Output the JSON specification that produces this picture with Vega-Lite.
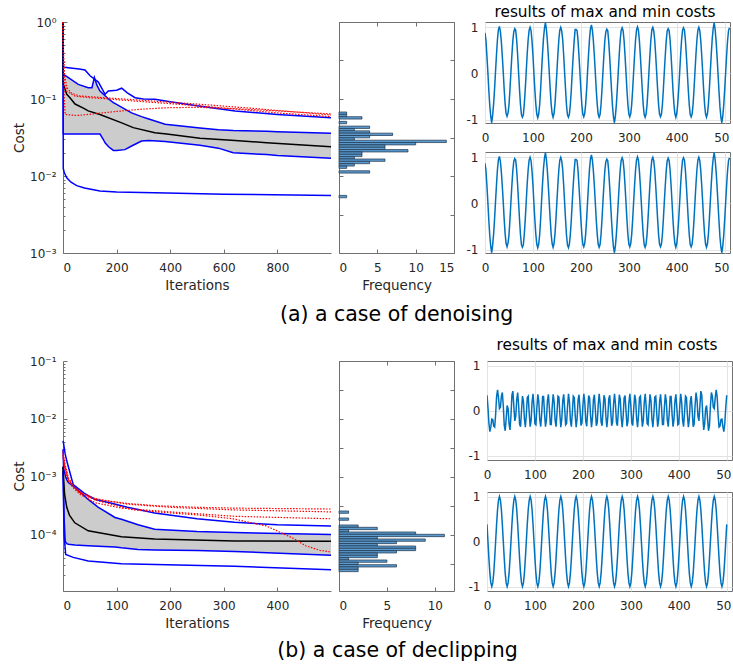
{
"$schema":"https://vega.github.io/schema/vega-lite/v6.json",
"autosize":{"type":"pad"},
"padding":{"left":12,"top":0,"right":0,"bottom":0},
"background":"white",
"config":{
"font":"DejaVu Sans",
"view":{"stroke":null},
"axis":{"labelFontSize":12,"titleFontSize":13.5,"titleFontWeight":"normal","labelColor":"#262626","titleColor":"#262626","domainColor":"#707070","tickColor":"#707070","grid":false,"domainWidth":1,"tickWidth":1},
"title":{"fontWeight":"normal","color":"#000000","font":"DejaVu Sans"}
},
"datasets":{
"bandA":[{"it":0,"lo":1,"hi":1},{"it":1,"lo":0.035,"hi":0.21},{"it":20,"lo":0.035,"hi":0.19},{"it":57,"lo":0.035,"hi":0.155},{"it":94,"lo":0.035,"hi":0.14},{"it":108,"lo":0.035,"hi":0.14},{"it":117,"lo":0.035,"hi":0.19},{"it":127,"lo":0.035,"hi":0.15},{"it":138,"lo":0.035,"hi":0.127},{"it":150,"lo":0.03,"hi":0.116},{"it":157,"lo":0.027,"hi":0.11},{"it":170,"lo":0.024,"hi":0.1},{"it":188,"lo":0.0215,"hi":0.09},{"it":200,"lo":0.0215,"hi":0.085},{"it":231,"lo":0.022,"hi":0.074},{"it":256,"lo":0.0245,"hi":0.066},{"it":293,"lo":0.0285,"hi":0.059},{"it":320,"lo":0.029,"hi":0.055},{"it":381,"lo":0.028,"hi":0.047},{"it":511,"lo":0.025,"hi":0.042},{"it":580,"lo":0.023,"hi":0.04},{"it":635,"lo":0.02,"hi":0.039},{"it":760,"lo":0.019,"hi":0.038},{"it":800,"lo":0.0185,"hi":0.0375},{"it":1000,"lo":0.017,"hi":0.0358}],
"lineA":[
{"s":"max","it":0,"v":1},{"s":"max","it":1,"v":0.26},{"s":"max","it":20,"v":0.255},{"s":"max","it":60,"v":0.245},{"s":"max","it":82,"v":0.238},{"s":"max","it":101,"v":0.2},{"s":"max","it":132,"v":0.166},{"s":"max","it":157,"v":0.115},{"s":"max","it":169,"v":0.127},{"s":"max","it":200,"v":0.13},{"s":"max","it":219,"v":0.138},{"s":"max","it":240,"v":0.12},{"s":"max","it":269,"v":0.104},{"s":"max","it":300,"v":0.1},{"s":"max","it":343,"v":0.099},{"s":"max","it":400,"v":0.092},{"s":"max","it":500,"v":0.082},{"s":"max","it":642,"v":0.07},{"s":"max","it":800,"v":0.063},{"s":"max","it":1000,"v":0.057},
{"s":"med","it":0,"v":1},{"s":"med","it":1,"v":0.155},{"s":"med","it":14,"v":0.115},{"s":"med","it":26,"v":0.104},{"s":"med","it":45,"v":0.086},{"s":"med","it":76,"v":0.076},{"s":"med","it":94,"v":0.07},{"s":"med","it":138,"v":0.063},{"s":"med","it":219,"v":0.049},{"s":"med","it":262,"v":0.0425},{"s":"med","it":343,"v":0.0365},{"s":"med","it":387,"v":0.035},{"s":"med","it":511,"v":0.031},{"s":"med","it":642,"v":0.029},{"s":"med","it":760,"v":0.027},{"s":"med","it":1000,"v":0.024},
{"s":"min","it":0,"v":1},{"s":"min","it":1,"v":0.0125},{"s":"min","it":5,"v":0.011},{"s":"min","it":14,"v":0.0095},{"s":"min","it":30,"v":0.0083},{"s":"min","it":51,"v":0.0075},{"s":"min","it":80,"v":0.007},{"s":"min","it":138,"v":0.0064},{"s":"min","it":200,"v":0.0062},{"s":"min","it":387,"v":0.006},{"s":"min","it":600,"v":0.0058},{"s":"min","it":1000,"v":0.0056},
{"s":"r1","it":0,"v":1},{"s":"r1","it":2,"v":0.4},{"s":"r1","it":5,"v":0.16},{"s":"r1","it":15,"v":0.125},{"s":"r1","it":45,"v":0.109},{"s":"r1","it":100,"v":0.104},{"s":"r1","it":157,"v":0.101},{"s":"r1","it":250,"v":0.095},{"s":"r1","it":343,"v":0.09},{"s":"r1","it":500,"v":0.082},{"s":"r1","it":642,"v":0.074},{"s":"r1","it":800,"v":0.066},{"s":"r1","it":1000,"v":0.059},
{"s":"r2","it":0,"v":1},{"s":"r2","it":2,"v":0.25},{"s":"r2","it":5,"v":0.1},{"s":"r2","it":8,"v":0.063},{"s":"r2","it":50,"v":0.061},{"s":"r2","it":94,"v":0.063},{"s":"r2","it":200,"v":0.069},{"s":"r2","it":300,"v":0.074},{"s":"r2","it":387,"v":0.077},{"s":"r2","it":500,"v":0.078},{"s":"r2","it":642,"v":0.075},{"s":"r2","it":800,"v":0.07},{"s":"r2","it":1000,"v":0.064},
{"s":"r3","it":0,"v":1},{"s":"r3","it":2,"v":0.35},{"s":"r3","it":6,"v":0.2},{"s":"r3","it":15,"v":0.14},{"s":"r3","it":30,"v":0.12},{"s":"r3","it":60,"v":0.11},{"s":"r3","it":150,"v":0.104},{"s":"r3","it":300,"v":0.096},{"s":"r3","it":500,"v":0.086},{"s":"r3","it":700,"v":0.076},{"s":"r3","it":1000,"v":0.062}],
"bandB":[{"it":0,"lo":0.0015,"hi":0.003},{"it":1,"lo":0.0006,"hi":0.0015},{"it":2,"lo":0.0002,"hi":0.0013},{"it":4,"lo":0.00008,"hi":0.0011},{"it":5,"lo":0.000075,"hi":0.001},{"it":7,"lo":0.000071,"hi":0.0009},{"it":10,"lo":0.000069,"hi":0.0008},{"it":22,"lo":0.000067,"hi":0.00066},{"it":47,"lo":0.000065,"hi":0.00041},{"it":66,"lo":0.000064,"hi":0.0003},{"it":97,"lo":0.000062,"hi":0.0002},{"it":109,"lo":0.00006,"hi":0.000186},{"it":140,"lo":0.000056,"hi":0.00015},{"it":171,"lo":0.000055,"hi":0.000126},{"it":250,"lo":0.000054,"hi":0.000115},{"it":320,"lo":0.000052,"hi":0.00011},{"it":500,"lo":0.0000447,"hi":0.000102}],
"lineB":[
{"s":"max","it":0,"v":0.0042},{"s":"max","it":1,"v":0.0038},{"s":"max","it":4,"v":0.0025},{"s":"max","it":7,"v":0.0019},{"s":"max","it":10,"v":0.0015},{"s":"max","it":19,"v":0.00074},{"s":"max","it":40,"v":0.00052},{"s":"max","it":60,"v":0.00041},{"s":"max","it":87,"v":0.00036},{"s":"max","it":120,"v":0.0003},{"s":"max","it":171,"v":0.00024},{"s":"max","it":250,"v":0.00019},{"s":"max","it":320,"v":0.000165},{"s":"max","it":400,"v":0.00015},{"s":"max","it":500,"v":0.000143},
{"s":"med","it":0,"v":0.0015},{"s":"med","it":1,"v":0.00098},{"s":"med","it":3,"v":0.0005},{"s":"med","it":7,"v":0.0003},{"s":"med","it":12,"v":0.00022},{"s":"med","it":22,"v":0.000162},{"s":"med","it":47,"v":0.000118},{"s":"med","it":109,"v":0.000093},{"s":"med","it":171,"v":0.000085},{"s":"med","it":320,"v":0.000079},{"s":"med","it":500,"v":0.000078},
{"s":"min","it":0,"v":0.0012},{"s":"min","it":2,"v":0.0001},{"s":"min","it":5,"v":0.000046},{"s":"min","it":19,"v":0.000041},{"s":"min","it":47,"v":0.0000355},{"s":"min","it":109,"v":0.000032},{"s":"min","it":320,"v":0.000029},{"s":"min","it":500,"v":0.000025},
{"s":"r1","it":0,"v":0.0028},{"s":"r1","it":3,"v":0.0018},{"s":"r1","it":10,"v":0.00098},{"s":"r1","it":19,"v":0.0007},{"s":"r1","it":32,"v":0.00054},{"s":"r1","it":50,"v":0.00045},{"s":"r1","it":78,"v":0.00039},{"s":"r1","it":120,"v":0.00035},{"s":"r1","it":171,"v":0.00032},{"s":"r1","it":250,"v":0.0003},{"s":"r1","it":320,"v":0.00029},{"s":"r1","it":500,"v":0.00028},
{"s":"r2","it":0,"v":0.0024},{"s":"r2","it":3,"v":0.0015},{"s":"r2","it":10,"v":0.00092},{"s":"r2","it":19,"v":0.0007},{"s":"r2","it":32,"v":0.00055},{"s":"r2","it":60,"v":0.00042},{"s":"r2","it":120,"v":0.00034},{"s":"r2","it":200,"v":0.0003},{"s":"r2","it":320,"v":0.00027},{"s":"r2","it":500,"v":0.00025},
{"s":"r3","it":0,"v":0.0022},{"s":"r3","it":3,"v":0.0014},{"s":"r3","it":10,"v":0.00085},{"s":"r3","it":19,"v":0.00065},{"s":"r3","it":32,"v":0.0005},{"s":"r3","it":60,"v":0.00036},{"s":"r3","it":109,"v":0.00029},{"s":"r3","it":200,"v":0.00025},{"s":"r3","it":320,"v":0.00021},{"s":"r3","it":500,"v":0.00019},
{"s":"r4","it":0,"v":0.0026},{"s":"r4","it":3,"v":0.0016},{"s":"r4","it":10,"v":0.0009},{"s":"r4","it":19,"v":0.00068},{"s":"r4","it":32,"v":0.00053},{"s":"r4","it":60,"v":0.0004},{"s":"r4","it":131,"v":0.00027},{"s":"r4","it":200,"v":0.00024},{"s":"r4","it":255,"v":0.00022},{"s":"r4","it":317,"v":0.00019},{"s":"r4","it":379,"v":0.000143},{"s":"r4","it":428,"v":0.000089},{"s":"r4","it":453,"v":0.000065},{"s":"r4","it":480,"v":0.000054},{"s":"r4","it":500,"v":0.000051}],
"histA":[{"lo":-1.1994,"hi":-1.1688,"n":1},{"lo":-1.2299,"hi":-1.1994,"n":1},{"lo":-1.2604,"hi":-1.2299,"n":3},{"lo":-1.3214,"hi":-1.2909,"n":1},{"lo":-1.3825,"hi":-1.3519,"n":4},{"lo":-1.413,"hi":-1.3825,"n":2},{"lo":-1.4435,"hi":-1.413,"n":4},{"lo":-1.474,"hi":-1.4435,"n":7},{"lo":-1.5045,"hi":-1.474,"n":4},{"lo":-1.5351,"hi":-1.5045,"n":2},{"lo":-1.5656,"hi":-1.5351,"n":14},{"lo":-1.5961,"hi":-1.5656,"n":10},{"lo":-1.6266,"hi":-1.5961,"n":6},{"lo":-1.6571,"hi":-1.6266,"n":6},{"lo":-1.6877,"hi":-1.6571,"n":9},{"lo":-1.7182,"hi":-1.6877,"n":3},{"lo":-1.7487,"hi":-1.7182,"n":3},{"lo":-1.7792,"hi":-1.7487,"n":2},{"lo":-1.8097,"hi":-1.7792,"n":6},{"lo":-1.8403,"hi":-1.8097,"n":4},{"lo":-1.8708,"hi":-1.8403,"n":2},{"lo":-1.9013,"hi":-1.8708,"n":1},{"lo":-1.9623,"hi":-1.9318,"n":4},{"lo":-2.2825,"hi":-2.2519,"n":1}],
"histB":[{"lo":-3.6264,"hi":-3.5862,"n":1},{"lo":-3.7471,"hi":-3.7069,"n":1},{"lo":-3.8678,"hi":-3.8276,"n":2},{"lo":-3.908,"hi":-3.8678,"n":4},{"lo":-3.9483,"hi":-3.908,"n":1},{"lo":-3.9885,"hi":-3.9483,"n":8},{"lo":-4.0287,"hi":-3.9885,"n":11},{"lo":-4.069,"hi":-4.0287,"n":4},{"lo":-4.1092,"hi":-4.069,"n":9},{"lo":-4.1494,"hi":-4.1092,"n":6},{"lo":-4.1897,"hi":-4.1494,"n":4},{"lo":-4.2299,"hi":-4.1897,"n":8},{"lo":-4.2701,"hi":-4.2299,"n":8},{"lo":-4.3103,"hi":-4.2701,"n":6},{"lo":-4.3506,"hi":-4.3103,"n":4},{"lo":-4.3908,"hi":-4.3506,"n":4},{"lo":-4.431,"hi":-4.3908,"n":1},{"lo":-4.4713,"hi":-4.431,"n":5},{"lo":-4.5115,"hi":-4.4713,"n":2},{"lo":-4.5517,"hi":-4.5115,"n":6},{"lo":-4.592,"hi":-4.5517,"n":2},{"lo":-4.6322,"hi":-4.592,"n":2}],
"sa1":[{"t":0,"v":0.88},{"t":2,"v":0.72},{"t":4,"v":0.38},{"t":6,"v":0.02},{"t":8,"v":-0.37},{"t":10,"v":-0.7},{"t":12,"v":-0.93},{"t":14,"v":-1.07},{"t":16,"v":-0.9},{"t":18,"v":-0.66},{"t":20,"v":-0.33},{"t":22,"v":0.05},{"t":24,"v":0.41},{"t":26,"v":0.74},{"t":28,"v":0.95},{"t":30,"v":1.02},
{"t":32,"v":0.92},{"t":34,"v":0.7},{"t":36,"v":0.39},{"t":38,"v":0.04},{"t":40,"v":-0.34},{"t":42,"v":-0.66},{"t":44,"v":-0.87},{"t":46,"v":-0.93},{"t":48,"v":-0.86},{"t":50,"v":-0.69},{"t":52,"v":-0.36},{"t":54,"v":0.02},{"t":56,"v":0.38},{"t":58,"v":0.7},{"t":60,"v":0.9},{"t":62,"v":0.97},
{"t":64,"v":0.94},{"t":66,"v":0.73},{"t":68,"v":0.41},{"t":70,"v":0.03},{"t":72,"v":-0.35},{"t":74,"v":-0.68},{"t":76,"v":-0.89},{"t":78,"v":-0.95},{"t":80,"v":-0.9},{"t":82,"v":-0.66},{"t":84,"v":-0.34},{"t":86,"v":0.04},{"t":88,"v":0.42},{"t":90,"v":0.73},{"t":92,"v":0.94},{"t":94,"v":1.0},
{"t":96,"v":0.93},{"t":98,"v":0.71},{"t":100,"v":0.4},{"t":102,"v":0.01},{"t":104,"v":-0.36},{"t":106,"v":-0.67},{"t":108,"v":-0.88},{"t":110,"v":-0.96},{"t":112,"v":-0.88},{"t":114,"v":-0.68},{"t":116,"v":-0.35},{"t":118,"v":0.05},{"t":120,"v":0.43},{"t":122,"v":0.76},{"t":124,"v":0.98},{"t":126,"v":1.1},
{"t":128,"v":0.96},{"t":130,"v":0.72},{"t":132,"v":0.39},{"t":134,"v":0.02},{"t":136,"v":-0.34},{"t":138,"v":-0.67},{"t":140,"v":-0.87},{"t":142,"v":-0.95},{"t":144,"v":-0.87},{"t":146,"v":-0.66},{"t":148,"v":-0.33},{"t":150,"v":0.04},{"t":152,"v":0.41},{"t":154,"v":0.73},{"t":156,"v":0.94},{"t":158,"v":1.0},
{"t":160,"v":0.92},{"t":162,"v":0.74},{"t":164,"v":0.41},{"t":166,"v":0.03},{"t":168,"v":-0.35},{"t":170,"v":-0.69},{"t":172,"v":-0.9},{"t":174,"v":-0.95},{"t":176,"v":-0.88},{"t":178,"v":-0.67},{"t":180,"v":-0.36},{"t":182,"v":0.03},{"t":184,"v":0.39},{"t":186,"v":0.71},{"t":188,"v":0.95},{"t":190,"v":0.95},
{"t":192,"v":0.93},{"t":194,"v":0.72},{"t":196,"v":0.38},{"t":198,"v":0.02},{"t":200,"v":-0.36},{"t":202,"v":-0.68},{"t":204,"v":-0.88},{"t":206,"v":-0.94},{"t":208,"v":-0.87},{"t":210,"v":-0.66},{"t":212,"v":-0.34},{"t":214,"v":0.05},{"t":216,"v":0.42},{"t":218,"v":0.75},{"t":220,"v":0.97},{"t":222,"v":1.05},
{"t":224,"v":0.94},{"t":226,"v":0.71},{"t":228,"v":0.4},{"t":230,"v":0.03},{"t":232,"v":-0.35},{"t":234,"v":-0.66},{"t":236,"v":-0.88},{"t":238,"v":-0.95},{"t":240,"v":-0.89},{"t":242,"v":-0.68},{"t":244,"v":-0.35},{"t":246,"v":0.03},{"t":248,"v":0.4},{"t":250,"v":0.72},{"t":252,"v":0.9},{"t":254,"v":0.96},
{"t":256,"v":0.93},{"t":258,"v":0.7},{"t":260,"v":0.37},{"t":262,"v":0.0},{"t":264,"v":-0.38},{"t":266,"v":-0.72},{"t":268,"v":-0.95},{"t":270,"v":-1.07},{"t":272,"v":-0.92},{"t":274,"v":-0.67},{"t":276,"v":-0.33},{"t":278,"v":0.04},{"t":280,"v":0.41},{"t":282,"v":0.73},{"t":284,"v":0.93},{"t":286,"v":0.99},
{"t":288,"v":0.93},{"t":290,"v":0.72},{"t":292,"v":0.4},{"t":294,"v":0.03},{"t":296,"v":-0.35},{"t":298,"v":-0.67},{"t":300,"v":-0.88},{"t":302,"v":-0.94},{"t":304,"v":-0.87},{"t":306,"v":-0.67},{"t":308,"v":-0.35},{"t":310,"v":0.03},{"t":312,"v":0.4},{"t":314,"v":0.72},{"t":316,"v":0.94},{"t":318,"v":1.01},
{"t":320,"v":0.94},{"t":322,"v":0.71},{"t":324,"v":0.39},{"t":326,"v":0.02},{"t":328,"v":-0.35},{"t":330,"v":-0.68},{"t":332,"v":-0.89},{"t":334,"v":-0.95},{"t":336,"v":-0.88},{"t":338,"v":-0.67},{"t":340,"v":-0.34},{"t":342,"v":0.04},{"t":344,"v":0.41},{"t":346,"v":0.73},{"t":348,"v":0.95},{"t":350,"v":1.0},
{"t":352,"v":0.92},{"t":354,"v":0.72},{"t":356,"v":0.4},{"t":358,"v":0.03},{"t":360,"v":-0.34},{"t":362,"v":-0.67},{"t":364,"v":-0.88},{"t":366,"v":-0.94},{"t":368,"v":-0.88},{"t":370,"v":-0.68},{"t":372,"v":-0.35},{"t":374,"v":0.03},{"t":376,"v":0.39},{"t":378,"v":0.71},{"t":380,"v":0.92},{"t":382,"v":0.97},
{"t":384,"v":0.93},{"t":386,"v":0.73},{"t":388,"v":0.41},{"t":390,"v":0.04},{"t":392,"v":-0.35},{"t":394,"v":-0.66},{"t":396,"v":-0.87},{"t":398,"v":-0.95},{"t":400,"v":-0.87},{"t":402,"v":-0.66},{"t":404,"v":-0.35},{"t":406,"v":0.02},{"t":408,"v":0.4},{"t":410,"v":0.72},{"t":412,"v":0.93},{"t":414,"v":0.99},
{"t":416,"v":0.94},{"t":418,"v":0.72},{"t":420,"v":0.39},{"t":422,"v":0.02},{"t":424,"v":-0.36},{"t":426,"v":-0.68},{"t":428,"v":-0.89},{"t":430,"v":-0.94},{"t":432,"v":-0.88},{"t":434,"v":-0.67},{"t":436,"v":-0.34},{"t":438,"v":0.04},{"t":440,"v":0.41},{"t":442,"v":0.73},{"t":444,"v":0.94},{"t":446,"v":1.0},
{"t":448,"v":0.93},{"t":450,"v":0.71},{"t":452,"v":0.4},{"t":454,"v":0.03},{"t":456,"v":-0.35},{"t":458,"v":-0.67},{"t":460,"v":-0.88},{"t":462,"v":-0.95},{"t":464,"v":-0.87},{"t":466,"v":-0.66},{"t":468,"v":-0.33},{"t":470,"v":0.05},{"t":472,"v":0.43},{"t":474,"v":0.76},{"t":476,"v":0.98},{"t":478,"v":1.1},
{"t":480,"v":0.95},{"t":482,"v":0.7},{"t":484,"v":0.37},{"t":486,"v":0.0},{"t":488,"v":-0.38},{"t":490,"v":-0.72},{"t":492,"v":-0.95},{"t":494,"v":-1.07},{"t":496,"v":-0.92},{"t":498,"v":-0.68},{"t":500,"v":-0.34},{"t":502,"v":0.03},{"t":504,"v":0.4},{"t":506,"v":0.72},{"t":508,"v":0.93},{"t":510,"v":0.99}],
"sa2":[{"t":0,"v":0.87},{"t":2,"v":0.72},{"t":4,"v":0.39},{"t":6,"v":0.02},{"t":8,"v":-0.37},{"t":10,"v":-0.7},{"t":12,"v":-0.93},{"t":14,"v":-1.07},{"t":16,"v":-0.9},{"t":18,"v":-0.66},{"t":20,"v":-0.33},{"t":22,"v":0.05},{"t":24,"v":0.41},{"t":26,"v":0.74},{"t":28,"v":0.95},{"t":30,"v":1.02},
{"t":32,"v":0.92},{"t":34,"v":0.7},{"t":36,"v":0.39},{"t":38,"v":0.04},{"t":40,"v":-0.34},{"t":42,"v":-0.66},{"t":44,"v":-0.87},{"t":46,"v":-0.94},{"t":48,"v":-0.86},{"t":50,"v":-0.69},{"t":52,"v":-0.36},{"t":54,"v":0.02},{"t":56,"v":0.38},{"t":58,"v":0.7},{"t":60,"v":0.91},{"t":62,"v":0.97},
{"t":64,"v":0.94},{"t":66,"v":0.73},{"t":68,"v":0.41},{"t":70,"v":0.03},{"t":72,"v":-0.35},{"t":74,"v":-0.68},{"t":76,"v":-0.89},{"t":78,"v":-0.95},{"t":80,"v":-0.9},{"t":82,"v":-0.66},{"t":84,"v":-0.34},{"t":86,"v":0.04},{"t":88,"v":0.42},{"t":90,"v":0.73},{"t":92,"v":0.94},{"t":94,"v":1.0},
{"t":96,"v":0.93},{"t":98,"v":0.71},{"t":100,"v":0.4},{"t":102,"v":0.01},{"t":104,"v":-0.36},{"t":106,"v":-0.67},{"t":108,"v":-0.88},{"t":110,"v":-0.96},{"t":112,"v":-0.88},{"t":114,"v":-0.68},{"t":116,"v":-0.35},{"t":118,"v":0.05},{"t":120,"v":0.43},{"t":122,"v":0.76},{"t":124,"v":0.98},{"t":126,"v":1.1},
{"t":128,"v":0.96},{"t":130,"v":0.72},{"t":132,"v":0.39},{"t":134,"v":0.02},{"t":136,"v":-0.34},{"t":138,"v":-0.67},{"t":140,"v":-0.87},{"t":142,"v":-0.95},{"t":144,"v":-0.87},{"t":146,"v":-0.66},{"t":148,"v":-0.33},{"t":150,"v":0.04},{"t":152,"v":0.41},{"t":154,"v":0.73},{"t":156,"v":0.94},{"t":158,"v":1.0},
{"t":160,"v":0.92},{"t":162,"v":0.74},{"t":164,"v":0.41},{"t":166,"v":0.03},{"t":168,"v":-0.35},{"t":170,"v":-0.69},{"t":172,"v":-0.9},{"t":174,"v":-0.96},{"t":176,"v":-0.88},{"t":178,"v":-0.67},{"t":180,"v":-0.36},{"t":182,"v":0.03},{"t":184,"v":0.39},{"t":186,"v":0.71},{"t":188,"v":0.95},{"t":190,"v":0.95},
{"t":192,"v":0.93},{"t":194,"v":0.72},{"t":196,"v":0.38},{"t":198,"v":0.02},{"t":200,"v":-0.36},{"t":202,"v":-0.68},{"t":204,"v":-0.88},{"t":206,"v":-0.94},{"t":208,"v":-0.87},{"t":210,"v":-0.66},{"t":212,"v":-0.34},{"t":214,"v":0.05},{"t":216,"v":0.42},{"t":218,"v":0.75},{"t":220,"v":0.97},{"t":222,"v":1.05},
{"t":224,"v":0.94},{"t":226,"v":0.71},{"t":228,"v":0.4},{"t":230,"v":0.03},{"t":232,"v":-0.35},{"t":234,"v":-0.66},{"t":236,"v":-0.88},{"t":238,"v":-0.95},{"t":240,"v":-0.89},{"t":242,"v":-0.68},{"t":244,"v":-0.35},{"t":246,"v":0.03},{"t":248,"v":0.4},{"t":250,"v":0.72},{"t":252,"v":0.9},{"t":254,"v":0.96},
{"t":256,"v":0.93},{"t":258,"v":0.7},{"t":260,"v":0.37},{"t":262,"v":0.0},{"t":264,"v":-0.38},{"t":266,"v":-0.72},{"t":268,"v":-0.95},{"t":270,"v":-1.07},{"t":272,"v":-0.92},{"t":274,"v":-0.67},{"t":276,"v":-0.33},{"t":278,"v":0.04},{"t":280,"v":0.41},{"t":282,"v":0.73},{"t":284,"v":0.93},{"t":286,"v":0.99},
{"t":288,"v":0.93},{"t":290,"v":0.72},{"t":292,"v":0.4},{"t":294,"v":0.03},{"t":296,"v":-0.35},{"t":298,"v":-0.67},{"t":300,"v":-0.88},{"t":302,"v":-0.94},{"t":304,"v":-0.87},{"t":306,"v":-0.67},{"t":308,"v":-0.35},{"t":310,"v":0.03},{"t":312,"v":0.4},{"t":314,"v":0.72},{"t":316,"v":0.94},{"t":318,"v":1.01},
{"t":320,"v":0.94},{"t":322,"v":0.71},{"t":324,"v":0.39},{"t":326,"v":0.02},{"t":328,"v":-0.35},{"t":330,"v":-0.68},{"t":332,"v":-0.89},{"t":334,"v":-0.95},{"t":336,"v":-0.88},{"t":338,"v":-0.67},{"t":340,"v":-0.34},{"t":342,"v":0.04},{"t":344,"v":0.41},{"t":346,"v":0.73},{"t":348,"v":0.95},{"t":350,"v":1.0},
{"t":352,"v":0.92},{"t":354,"v":0.72},{"t":356,"v":0.4},{"t":358,"v":0.03},{"t":360,"v":-0.34},{"t":362,"v":-0.67},{"t":364,"v":-0.88},{"t":366,"v":-0.94},{"t":368,"v":-0.88},{"t":370,"v":-0.68},{"t":372,"v":-0.35},{"t":374,"v":0.03},{"t":376,"v":0.39},{"t":378,"v":0.71},{"t":380,"v":0.92},{"t":382,"v":0.98},
{"t":384,"v":0.93},{"t":386,"v":0.73},{"t":388,"v":0.41},{"t":390,"v":0.04},{"t":392,"v":-0.35},{"t":394,"v":-0.66},{"t":396,"v":-0.87},{"t":398,"v":-0.95},{"t":400,"v":-0.87},{"t":402,"v":-0.66},{"t":404,"v":-0.35},{"t":406,"v":0.02},{"t":408,"v":0.4},{"t":410,"v":0.72},{"t":412,"v":0.93},{"t":414,"v":0.99},
{"t":416,"v":0.94},{"t":418,"v":0.72},{"t":420,"v":0.39},{"t":422,"v":0.02},{"t":424,"v":-0.36},{"t":426,"v":-0.68},{"t":428,"v":-0.89},{"t":430,"v":-0.94},{"t":432,"v":-0.88},{"t":434,"v":-0.67},{"t":436,"v":-0.34},{"t":438,"v":0.04},{"t":440,"v":0.41},{"t":442,"v":0.73},{"t":444,"v":0.94},{"t":446,"v":1.0},
{"t":448,"v":0.93},{"t":450,"v":0.71},{"t":452,"v":0.4},{"t":454,"v":0.03},{"t":456,"v":-0.35},{"t":458,"v":-0.67},{"t":460,"v":-0.88},{"t":462,"v":-0.95},{"t":464,"v":-0.87},{"t":466,"v":-0.66},{"t":468,"v":-0.33},{"t":470,"v":0.05},{"t":472,"v":0.43},{"t":474,"v":0.76},{"t":476,"v":0.98},{"t":478,"v":1.1},
{"t":480,"v":0.95},{"t":482,"v":0.7},{"t":484,"v":0.37},{"t":486,"v":0.0},{"t":488,"v":-0.38},{"t":490,"v":-0.72},{"t":492,"v":-0.95},{"t":494,"v":-1.07},{"t":496,"v":-0.92},{"t":498,"v":-0.68},{"t":500,"v":-0.34},{"t":502,"v":0.03},{"t":504,"v":0.4},{"t":506,"v":0.72},{"t":508,"v":0.93},{"t":510,"v":0.99}],
"sb1":[{"t":0,"v":0.34},{"t":2,"v":0.07},{"t":4,"v":-0.29},{"t":6,"v":-0.47},{"t":8,"v":-0.36},{"t":10,"v":-0.19},{"t":12,"v":-0.2},{"t":14,"v":-0.35},{"t":16,"v":-0.37},{"t":18,"v":-0.09},{"t":20,"v":0.31},{"t":22,"v":0.46},{"t":24,"v":0.28},{"t":26,"v":0.04},{"t":28,"v":0.07},{"t":30,"v":0.32},{"t":32,"v":0.4},{"t":34,"v":0.1},{"t":36,"v":-0.33},{"t":38,"v":-0.45},{"t":40,"v":-0.18},{"t":42,"v":0.11},{"t":44,"v":0.04},{"t":46,"v":-0.29},{"t":48,"v":-0.43},{"t":50,"v":-0.11},{"t":52,"v":0.34},{"t":54,"v":0.43},{"t":56,"v":0.09},{"t":58,"v":-0.23},{"t":60,"v":-0.13},{"t":62,"v":0.24},{"t":64,"v":0.4},{"t":66,"v":0.11},{"t":68,"v":-0.31},{"t":70,"v":-0.36},{"t":72,"v":0.0},{"t":74,"v":0.32},{"t":76,"v":0.21},{"t":78,"v":-0.19},{"t":80,"v":-0.37},{"t":82,"v":-0.1},{"t":84,"v":0.29},{"t":86,"v":0.32},{"t":88,"v":-0.05},{"t":90,"v":-0.36},{"t":92,"v":-0.22},{"t":94,"v":0.19},{"t":96,"v":0.37},{"t":98,"v":0.09},{"t":100,"v":-0.3},{"t":102,"v":-0.32},{"t":104,"v":0.06},{"t":106,"v":0.36},{"t":108,"v":0.21},{"t":110,"v":-0.2},{"t":112,"v":-0.36},{"t":114,"v":-0.08},{"t":116,"v":0.31},{"t":118,"v":0.31},{"t":120,"v":-0.07},{"t":122,"v":-0.36},{"t":124,"v":-0.21},{"t":126,"v":0.21},{"t":128,"v":0.36},{"t":130,"v":0.07},{"t":132,"v":-0.31},{"t":134,"v":-0.31},{"t":136,"v":0.08},{"t":138,"v":0.36},{"t":140,"v":0.2},{"t":142,"v":-0.21},{"t":144,"v":-0.36},{"t":146,"v":-0.06},{"t":148,"v":0.32},{"t":150,"v":0.3},{"t":152,"v":-0.09},{"t":154,"v":-0.37},{"t":156,"v":-0.19},{"t":158,"v":0.22},{"t":160,"v":0.36},{"t":162,"v":0.05},{"t":164,"v":-0.32},{"t":166,"v":-0.29},{"t":168,"v":0.1},{"t":170,"v":0.37},{"t":172,"v":0.18},{"t":174,"v":-0.23},{"t":176,"v":-0.36},{"t":178,"v":-0.04},{"t":180,"v":0.32},{"t":182,"v":0.29},{"t":184,"v":-0.11},{"t":186,"v":-0.37},{"t":188,"v":-0.17},{"t":190,"v":0.24},{"t":192,"v":0.35},{"t":194,"v":0.03},{"t":196,"v":-0.33},{"t":198,"v":-0.28},{"t":200,"v":0.11},{"t":202,"v":0.37},{"t":204,"v":0.17},{"t":206,"v":-0.24},{"t":208,"v":-0.35},{"t":210,"v":-0.02},{"t":212,"v":0.33},{"t":214,"v":0.28},{"t":216,"v":-0.12},{"t":218,"v":-0.37},{"t":220,"v":-0.16},{"t":222,"v":0.25},{"t":224,"v":0.35},{"t":226,"v":0.01},{"t":228,"v":-0.34},{"t":230,"v":-0.27},{"t":232,"v":0.13},{"t":234,"v":0.37},{"t":236,"v":0.15},{"t":238,"v":-0.26},{"t":240,"v":-0.34},{"t":242,"v":-0.01},{"t":244,"v":0.34},{"t":246,"v":0.26},{"t":248,"v":-0.14},{"t":250,"v":-0.37},{"t":252,"v":-0.14},{"t":254,"v":0.26},{"t":256,"v":0.34},{"t":258,"v":-0.01},{"t":260,"v":-0.34},{"t":262,"v":-0.26},{"t":264,"v":0.15},{"t":266,"v":0.37},{"t":268,"v":0.13},{"t":270,"v":-0.27},{"t":272,"v":-0.34},{"t":274,"v":0.01},{"t":276,"v":0.35},{"t":278,"v":0.25},{"t":280,"v":-0.16},{"t":282,"v":-0.37},{"t":284,"v":-0.12},{"t":286,"v":0.28},{"t":288,"v":0.33},{"t":290,"v":-0.02},{"t":292,"v":-0.35},{"t":294,"v":-0.24},{"t":296,"v":0.17},{"t":298,"v":0.37},{"t":300,"v":0.11},{"t":302,"v":-0.28},{"t":304,"v":-0.33},{"t":306,"v":0.03},{"t":308,"v":0.35},{"t":310,"v":0.24},{"t":312,"v":-0.17},{"t":314,"v":-0.37},{"t":316,"v":-0.11},{"t":318,"v":0.29},{"t":320,"v":0.32},{"t":322,"v":-0.04},{"t":324,"v":-0.36},{"t":326,"v":-0.23},{"t":328,"v":0.18},{"t":330,"v":0.37},{"t":332,"v":0.1},{"t":334,"v":-0.29},{"t":336,"v":-0.32},{"t":338,"v":0.05},{"t":340,"v":0.36},{"t":342,"v":0.22},{"t":344,"v":-0.19},{"t":346,"v":-0.37},{"t":348,"v":-0.09},{"t":350,"v":0.3},{"t":352,"v":0.32},{"t":354,"v":-0.06},{"t":356,"v":-0.36},{"t":358,"v":-0.21},{"t":360,"v":0.2},{"t":362,"v":0.36},{"t":364,"v":0.08},{"t":366,"v":-0.31},{"t":368,"v":-0.31},{"t":370,"v":0.07},{"t":372,"v":0.36},{"t":374,"v":0.21},{"t":376,"v":-0.21},{"t":378,"v":-0.36},{"t":380,"v":-0.07},{"t":382,"v":0.31},{"t":384,"v":0.31},{"t":386,"v":-0.08},{"t":388,"v":-0.36},{"t":390,"v":-0.2},{"t":392,"v":0.21},{"t":394,"v":0.36},{"t":396,"v":0.06},{"t":398,"v":-0.32},{"t":400,"v":-0.3},{"t":402,"v":0.09},{"t":404,"v":0.37},{"t":406,"v":0.19},{"t":408,"v":-0.22},{"t":410,"v":-0.36},{"t":412,"v":-0.05},{"t":414,"v":0.32},{"t":416,"v":0.29},{"t":418,"v":-0.1},{"t":420,"v":-0.37},{"t":422,"v":-0.19},{"t":424,"v":0.21},{"t":426,"v":0.32},{"t":428,"v":0.0},{"t":430,"v":-0.36},{"t":432,"v":-0.31},{"t":434,"v":0.11},{"t":436,"v":0.4},{"t":438,"v":0.24},{"t":440,"v":-0.13},{"t":442,"v":-0.23},{"t":444,"v":0.09},{"t":446,"v":0.43},{"t":448,"v":0.34},{"t":450,"v":-0.11},{"t":452,"v":-0.43},{"t":454,"v":-0.29},{"t":456,"v":0.04},{"t":458,"v":0.11},{"t":460,"v":-0.18},{"t":462,"v":-0.45},{"t":464,"v":-0.33},{"t":466,"v":0.1},{"t":468,"v":0.4},{"t":470,"v":0.32},{"t":472,"v":0.07},{"t":474,"v":0.04},{"t":476,"v":0.28},{"t":478,"v":0.46},{"t":480,"v":0.31},{"t":482,"v":-0.09},{"t":484,"v":-0.37},{"t":486,"v":-0.35},{"t":488,"v":-0.2},{"t":490,"v":-0.19},{"t":492,"v":-0.36},{"t":494,"v":-0.47},{"t":496,"v":-0.29},{"t":498,"v":0.07},{"t":500,"v":0.34}],
"sb2":[{"t":0,"v":0.38},{"t":2,"v":0},{"t":4,"v":-0.38},{"t":6,"v":-0.71},{"t":8,"v":-0.92},{"t":10,"v":-1},{"t":12,"v":-0.92},{"t":14,"v":-0.71},{"t":16,"v":-0.38},{"t":18,"v":0},{"t":20,"v":0.38},{"t":22,"v":0.71},{"t":24,"v":0.92},{"t":26,"v":1},{"t":28,"v":0.92},{"t":30,"v":0.71},
{"t":32,"v":0.38},{"t":34,"v":0},{"t":36,"v":-0.38},{"t":38,"v":-0.71},{"t":40,"v":-0.92},{"t":42,"v":-1},{"t":44,"v":-0.92},{"t":46,"v":-0.71},{"t":48,"v":-0.38},{"t":50,"v":0},{"t":52,"v":0.38},{"t":54,"v":0.71},{"t":56,"v":0.92},{"t":58,"v":1},{"t":60,"v":0.92},{"t":62,"v":0.71},
{"t":64,"v":0.38},{"t":66,"v":0},{"t":68,"v":-0.38},{"t":70,"v":-0.71},{"t":72,"v":-0.92},{"t":74,"v":-1},{"t":76,"v":-0.92},{"t":78,"v":-0.71},{"t":80,"v":-0.38},{"t":82,"v":0},{"t":84,"v":0.38},{"t":86,"v":0.71},{"t":88,"v":0.92},{"t":90,"v":1},{"t":92,"v":0.92},{"t":94,"v":0.71},
{"t":96,"v":0.38},{"t":98,"v":0},{"t":100,"v":-0.38},{"t":102,"v":-0.71},{"t":104,"v":-0.92},{"t":106,"v":-1},{"t":108,"v":-0.92},{"t":110,"v":-0.71},{"t":112,"v":-0.38},{"t":114,"v":0},{"t":116,"v":0.38},{"t":118,"v":0.71},{"t":120,"v":0.92},{"t":122,"v":1},{"t":124,"v":0.92},{"t":126,"v":0.71},
{"t":128,"v":0.38},{"t":130,"v":0},{"t":132,"v":-0.38},{"t":134,"v":-0.71},{"t":136,"v":-0.92},{"t":138,"v":-1},{"t":140,"v":-0.92},{"t":142,"v":-0.71},{"t":144,"v":-0.38},{"t":146,"v":0},{"t":148,"v":0.38},{"t":150,"v":0.71},{"t":152,"v":0.92},{"t":154,"v":1},{"t":156,"v":0.92},{"t":158,"v":0.71},
{"t":160,"v":0.38},{"t":162,"v":0},{"t":164,"v":-0.38},{"t":166,"v":-0.71},{"t":168,"v":-0.92},{"t":170,"v":-1},{"t":172,"v":-0.92},{"t":174,"v":-0.71},{"t":176,"v":-0.38},{"t":178,"v":0},{"t":180,"v":0.38},{"t":182,"v":0.71},{"t":184,"v":0.92},{"t":186,"v":1},{"t":188,"v":0.92},{"t":190,"v":0.71},
{"t":192,"v":0.38},{"t":194,"v":0},{"t":196,"v":-0.38},{"t":198,"v":-0.71},{"t":200,"v":-0.92},{"t":202,"v":-1},{"t":204,"v":-0.92},{"t":206,"v":-0.71},{"t":208,"v":-0.38},{"t":210,"v":0},{"t":212,"v":0.38},{"t":214,"v":0.71},{"t":216,"v":0.92},{"t":218,"v":1},{"t":220,"v":0.92},{"t":222,"v":0.71},
{"t":224,"v":0.38},{"t":226,"v":0},{"t":228,"v":-0.38},{"t":230,"v":-0.71},{"t":232,"v":-0.92},{"t":234,"v":-1},{"t":236,"v":-0.92},{"t":238,"v":-0.71},{"t":240,"v":-0.38},{"t":242,"v":0},{"t":244,"v":0.38},{"t":246,"v":0.71},{"t":248,"v":0.92},{"t":250,"v":1},{"t":252,"v":0.92},{"t":254,"v":0.71},
{"t":256,"v":0.38},{"t":258,"v":0},{"t":260,"v":-0.38},{"t":262,"v":-0.71},{"t":264,"v":-0.92},{"t":266,"v":-1},{"t":268,"v":-0.92},{"t":270,"v":-0.71},{"t":272,"v":-0.38},{"t":274,"v":0},{"t":276,"v":0.38},{"t":278,"v":0.71},{"t":280,"v":0.92},{"t":282,"v":1},{"t":284,"v":0.92},{"t":286,"v":0.71},
{"t":288,"v":0.38},{"t":290,"v":0},{"t":292,"v":-0.38},{"t":294,"v":-0.71},{"t":296,"v":-0.92},{"t":298,"v":-1},{"t":300,"v":-0.92},{"t":302,"v":-0.71},{"t":304,"v":-0.38},{"t":306,"v":0},{"t":308,"v":0.38},{"t":310,"v":0.71},{"t":312,"v":0.92},{"t":314,"v":1},{"t":316,"v":0.92},{"t":318,"v":0.71},
{"t":320,"v":0.38},{"t":322,"v":0},{"t":324,"v":-0.38},{"t":326,"v":-0.71},{"t":328,"v":-0.92},{"t":330,"v":-1},{"t":332,"v":-0.92},{"t":334,"v":-0.71},{"t":336,"v":-0.38},{"t":338,"v":0},{"t":340,"v":0.38},{"t":342,"v":0.71},{"t":344,"v":0.92},{"t":346,"v":1},{"t":348,"v":0.92},{"t":350,"v":0.71},
{"t":352,"v":0.38},{"t":354,"v":0},{"t":356,"v":-0.38},{"t":358,"v":-0.71},{"t":360,"v":-0.92},{"t":362,"v":-1},{"t":364,"v":-0.92},{"t":366,"v":-0.71},{"t":368,"v":-0.38},{"t":370,"v":0},{"t":372,"v":0.38},{"t":374,"v":0.71},{"t":376,"v":0.92},{"t":378,"v":1},{"t":380,"v":0.92},{"t":382,"v":0.71},
{"t":384,"v":0.38},{"t":386,"v":0},{"t":388,"v":-0.38},{"t":390,"v":-0.71},{"t":392,"v":-0.92},{"t":394,"v":-1},{"t":396,"v":-0.92},{"t":398,"v":-0.71},{"t":400,"v":-0.38},{"t":402,"v":0},{"t":404,"v":0.38},{"t":406,"v":0.71},{"t":408,"v":0.92},{"t":410,"v":1},{"t":412,"v":0.92},{"t":414,"v":0.71},
{"t":416,"v":0.38},{"t":418,"v":0},{"t":420,"v":-0.38},{"t":422,"v":-0.71},{"t":424,"v":-0.92},{"t":426,"v":-1},{"t":428,"v":-0.92},{"t":430,"v":-0.71},{"t":432,"v":-0.38},{"t":434,"v":0},{"t":436,"v":0.38},{"t":438,"v":0.71},{"t":440,"v":0.92},{"t":442,"v":1},{"t":444,"v":0.92},{"t":446,"v":0.71},
{"t":448,"v":0.38},{"t":450,"v":0},{"t":452,"v":-0.38},{"t":454,"v":-0.71},{"t":456,"v":-0.92},{"t":458,"v":-1},{"t":460,"v":-0.92},{"t":462,"v":-0.71},{"t":464,"v":-0.38},{"t":466,"v":0},{"t":468,"v":0.38},{"t":470,"v":0.71},{"t":472,"v":0.92},{"t":474,"v":1},{"t":476,"v":0.92},{"t":478,"v":0.71},
{"t":480,"v":0.38},{"t":482,"v":0},{"t":484,"v":-0.38},{"t":486,"v":-0.71},{"t":488,"v":-0.92},{"t":490,"v":-1},{"t":492,"v":-0.92},{"t":494,"v":-0.71},{"t":496,"v":-0.38},{"t":498,"v":0},{"t":500,"v":0.38}]
},
"vconcat":[
{
"title":{"text":"(a) a case of denoising","orient":"bottom","anchor":"middle","fontSize":20.5,"offset":13,"dx":25},
"spacing":10,
"hconcat":[
{"title":{"text":" ","fontSize":15,"offset":1},"bounds":"flush","spacing":8,"hconcat":[
{"width":268,"height":231,
"layer":[
{"data":{"name":"bandA"},"mark":{"type":"area","color":"#cccccc"},
"encoding":{"x":{"field":"it","type":"quantitative","scale":{"domain":[0,1000],"nice":false},"axis":{"values":[0,200,400,600,800],"title":"Iterations","tickSize":-4,"labelPadding":13,"titlePadding":5}},
"y":{"field":"hi","type":"quantitative","scale":{"type":"log","domain":[0.001,1],"nice":false},"axis":{"values":[0.001,0.002,0.003,0.004,0.005,0.006,0.007,0.008,0.009,0.01,0.02,0.03,0.04,0.05,0.06,0.07,0.08,0.09,0.1,0.2,0.3,0.4,0.5,0.6,0.7,0.8,0.9,1],"title":"Cost","labelOverlap":false,"tickSize":{"condition":{"test":"abs(log(datum.value)/LN10 - round(log(datum.value)/LN10)) > 0.001","value":-2},"value":-4},"labelPadding":11,"titlePadding":3,"labelExpr":"abs(log(datum.value)/LN10 - round(log(datum.value)/LN10)) > 0.001 ? '' : '10' + (datum.value >= 0.5 ? '⁰' : datum.value >= 0.05 ? '⁻¹' : datum.value >= 0.005 ? '⁻²' : datum.value >= 0.0005 ? '⁻³' : '⁻⁴')"}},
"y2":{"field":"lo"}}},
{"data":{"name":"bandA"},"mark":{"type":"line","color":"#0000ff","strokeWidth":1.5},"encoding":{"x":{"field":"it","type":"quantitative"},"y":{"field":"hi","type":"quantitative"}}},
{"data":{"name":"bandA"},"mark":{"type":"line","color":"#0000ff","strokeWidth":1.5},"encoding":{"x":{"field":"it","type":"quantitative"},"y":{"field":"lo","type":"quantitative"}}},
{"data":{"name":"lineA"},"transform":[{"filter":"datum.s == 'max' || datum.s == 'min'"}],"mark":{"type":"line","color":"#0000ff","strokeWidth":1.5},"encoding":{"x":{"field":"it","type":"quantitative"},"y":{"field":"v","type":"quantitative"},"detail":{"field":"s"}}},
{"data":{"name":"lineA"},"transform":[{"filter":"datum.s == 'med'"}],"mark":{"type":"line","color":"#000000","strokeWidth":1.5},"encoding":{"x":{"field":"it","type":"quantitative"},"y":{"field":"v","type":"quantitative"}}},
{"data":{"name":"lineA"},"transform":[{"filter":"indexof(datum.s, 'r') == 0"}],"mark":{"type":"line","color":"#ff0000","strokeWidth":1.2,"strokeDash":[1.5,1.5]},"encoding":{"x":{"field":"it","type":"quantitative"},"y":{"field":"v","type":"quantitative"},"detail":{"field":"s"}}}
]},
{"width":115,"height":231,"data":{"name":"histA"},"view":{"stroke":"#707070"},
"layer":[
{"mark":{"type":"rect","fill":"#5a9bd0","stroke":"#1c2f45","strokeWidth":0.7},
"encoding":{"x":{"field":"n","type":"quantitative","scale":{"domain":[0,15],"nice":false},"axis":{"values":[0,5,10,15],"title":"Frequency","tickSize":-4,"labelPadding":13,"titlePadding":5,"domain":false}},
"x2":{"datum":0},
"y":{"field":"lo","type":"quantitative","scale":{"domain":[-3,0],"nice":false},"axis":{"values":[-3,-2.5,-2,-1.5,-1,-0.5,0],"labels":false,"title":null,"tickSize":-4,"domain":false}},
"y2":{"field":"hi"}}},
{"mark":{"type":"rect","opacity":0},
"encoding":{"x":{"field":"n","type":"quantitative","axis":{"orient":"top","values":[0,5,10,15],"labels":false,"title":null,"tickSize":-4,"domain":false}},
"x2":{"datum":0},
"y":{"field":"lo","type":"quantitative","axis":{"orient":"right","values":[-3,-2.5,-2,-1.5,-1,-0.5,0],"labels":false,"title":null,"tickSize":-4,"domain":false}},
"y2":{"field":"hi"}}}
],
"resolve":{"axis":{"x":"independent","y":"independent"}}}
]},
{"title":{"text":"results of max and min costs","fontSize":15.3,"anchor":"middle","offset":1,"dx":7},
"bounds":"flush","spacing":29,
"vconcat":[
{"width":245,"height":101,"data":{"name":"sa1"},"view":{"stroke":"#707070"},"mark":{"type":"line","color":"#0072bd","strokeWidth":1.5,"clip":true},
"encoding":{"x":{"field":"t","type":"quantitative","scale":{"domain":[0,511],"nice":false,"zero":false},"axis":{"values":[0,100,200,300,400,500],"title":null,"grid":true,"gridColor":"#e3e3e3","ticks":false,"domain":false,"labelPadding":9,"labelExpr":"datum.value == 500 ? '50' : datum.label","labelAlign":{"condition":{"test":"datum.value == 500","value":"left"},"value":"center"},"labelOffset":{"condition":{"test":"datum.value == 500","value":-11},"value":0}}},
"y":{"field":"v","type":"quantitative","scale":{"domain":[-1.075,1.115],"nice":false,"zero":false},"axis":{"values":[-1,0,1],"title":null,"grid":true,"gridColor":"#e3e3e3","ticks":false,"domain":false,"labelPadding":7,"labelExpr":"datum.value < 0 ? '-1' : datum.label"}}}},
{"width":245,"height":101,"data":{"name":"sa2"},"view":{"stroke":"#707070"},"mark":{"type":"line","color":"#0072bd","strokeWidth":1.5,"clip":true},
"encoding":{"x":{"field":"t","type":"quantitative","scale":{"domain":[0,511],"nice":false,"zero":false},"axis":{"values":[0,100,200,300,400,500],"title":null,"grid":true,"gridColor":"#e3e3e3","ticks":false,"domain":false,"labelPadding":9,"labelExpr":"datum.value == 500 ? '50' : datum.label","labelAlign":{"condition":{"test":"datum.value == 500","value":"left"},"value":"center"},"labelOffset":{"condition":{"test":"datum.value == 500","value":-11},"value":0}}},
"y":{"field":"v","type":"quantitative","scale":{"domain":[-1.075,1.115],"nice":false,"zero":false},"axis":{"values":[-1,0,1],"title":null,"grid":true,"gridColor":"#e3e3e3","ticks":false,"domain":false,"labelPadding":7,"labelExpr":"datum.value < 0 ? '-1' : datum.label"}}}}
]}
]},
{
"title":{"text":"(b) a case of declipping","orient":"bottom","anchor":"middle","fontSize":20.5,"offset":11,"dx":25},
"spacing":12,
"hconcat":[
{"title":{"text":" ","fontSize":15,"offset":6},"bounds":"flush","spacing":8,"hconcat":[
{"width":268,"height":230,
"layer":[
{"data":{"name":"bandB"},"mark":{"type":"area","color":"#cccccc"},
"encoding":{"x":{"field":"it","type":"quantitative","scale":{"domain":[0,500],"nice":false},"axis":{"values":[0,100,200,300,400],"title":"Iterations","tickSize":-4,"labelPadding":13,"titlePadding":5}},
"y":{"field":"hi","type":"quantitative","scale":{"type":"log","domain":[0.0000108,0.1],"nice":false},"axis":{"values":[0.00002,0.00003,0.00004,0.00005,0.00006,0.00007,0.00008,0.00009,0.0001,0.0002,0.0003,0.0004,0.0005,0.0006,0.0007,0.0008,0.0009,0.001,0.002,0.003,0.004,0.005,0.006,0.007,0.008,0.009,0.01,0.02,0.03,0.04,0.05,0.06,0.07,0.08,0.09,0.1],"title":"Cost","labelOverlap":false,"tickSize":{"condition":{"test":"abs(log(datum.value)/LN10 - round(log(datum.value)/LN10)) > 0.001","value":-2},"value":-4},"labelPadding":11,"titlePadding":3,"labelExpr":"abs(log(datum.value)/LN10 - round(log(datum.value)/LN10)) > 0.001 ? '' : '10' + (datum.value >= 0.5 ? '⁰' : datum.value >= 0.05 ? '⁻¹' : datum.value >= 0.005 ? '⁻²' : datum.value >= 0.0005 ? '⁻³' : '⁻⁴')"}},
"y2":{"field":"lo"}}},
{"data":{"name":"bandB"},"mark":{"type":"line","color":"#0000ff","strokeWidth":1.5},"encoding":{"x":{"field":"it","type":"quantitative"},"y":{"field":"hi","type":"quantitative"}}},
{"data":{"name":"bandB"},"mark":{"type":"line","color":"#0000ff","strokeWidth":1.5},"encoding":{"x":{"field":"it","type":"quantitative"},"y":{"field":"lo","type":"quantitative"}}},
{"data":{"name":"lineB"},"transform":[{"filter":"datum.s == 'max' || datum.s == 'min'"}],"mark":{"type":"line","color":"#0000ff","strokeWidth":1.5},"encoding":{"x":{"field":"it","type":"quantitative"},"y":{"field":"v","type":"quantitative"},"detail":{"field":"s"}}},
{"data":{"name":"lineB"},"transform":[{"filter":"datum.s == 'med'"}],"mark":{"type":"line","color":"#000000","strokeWidth":1.5},"encoding":{"x":{"field":"it","type":"quantitative"},"y":{"field":"v","type":"quantitative"}}},
{"data":{"name":"lineB"},"transform":[{"filter":"indexof(datum.s, 'r') == 0"}],"mark":{"type":"line","color":"#ff0000","strokeWidth":1.2,"strokeDash":[1.5,1.5]},"encoding":{"x":{"field":"it","type":"quantitative"},"y":{"field":"v","type":"quantitative"},"detail":{"field":"s"}}}
]},
{"width":115,"height":230,"data":{"name":"histB"},"view":{"stroke":"#707070"},
"layer":[
{"mark":{"type":"rect","fill":"#5a9bd0","stroke":"#1c2f45","strokeWidth":0.7},
"encoding":{"x":{"field":"n","type":"quantitative","scale":{"domain":[0,12],"nice":false},"axis":{"values":[0,5,10],"title":"Frequency","tickSize":-4,"labelPadding":13,"titlePadding":5,"domain":false}},
"x2":{"datum":0},
"y":{"field":"lo","type":"quantitative","scale":{"domain":[-4.966,-1],"nice":false},"axis":{"values":[-4.5,-4,-3.5,-3,-2.5,-2,-1.5,-1],"labels":false,"title":null,"tickSize":-4,"domain":false}},
"y2":{"field":"hi"}}},
{"mark":{"type":"rect","opacity":0},
"encoding":{"x":{"field":"n","type":"quantitative","axis":{"orient":"top","values":[0,5,10],"labels":false,"title":null,"tickSize":-4,"domain":false}},
"x2":{"datum":0},
"y":{"field":"lo","type":"quantitative","axis":{"orient":"right","values":[-4.5,-4,-3.5,-3,-2.5,-2,-1.5,-1],"labels":false,"title":null,"tickSize":-4,"domain":false}},
"y2":{"field":"hi"}}}
],
"resolve":{"axis":{"x":"independent","y":"independent"}}}
]},
{"title":{"text":"results of max and min costs","fontSize":15.3,"anchor":"middle","offset":6,"dx":7},
"bounds":"flush","spacing":32,
"vconcat":[
{"width":245,"height":99,"data":{"name":"sb1"},"view":{"stroke":"#707070"},"mark":{"type":"line","color":"#0072bd","strokeWidth":1.5,"clip":true},
"encoding":{"x":{"field":"t","type":"quantitative","scale":{"domain":[0,511],"nice":false,"zero":false},"axis":{"values":[0,100,200,300,400,500],"title":null,"grid":true,"gridColor":"#e3e3e3","ticks":false,"domain":false,"labelPadding":9,"labelExpr":"datum.value == 500 ? '50' : datum.label","labelAlign":{"condition":{"test":"datum.value == 500","value":"left"},"value":"center"},"labelOffset":{"condition":{"test":"datum.value == 500","value":-11},"value":0}}},
"y":{"field":"v","type":"quantitative","scale":{"domain":[-1.1,1.1],"nice":false,"zero":false},"axis":{"values":[-1,0,1],"title":null,"grid":true,"gridColor":"#e3e3e3","ticks":false,"domain":false,"labelPadding":7,"labelExpr":"datum.value < 0 ? '-1' : datum.label"}}}},
{"width":245,"height":99,"data":{"name":"sb2"},"view":{"stroke":"#707070"},"mark":{"type":"line","color":"#0072bd","strokeWidth":1.5,"clip":true},
"encoding":{"x":{"field":"t","type":"quantitative","scale":{"domain":[0,511],"nice":false,"zero":false},"axis":{"values":[0,100,200,300,400,500],"title":null,"grid":true,"gridColor":"#e3e3e3","ticks":false,"domain":false,"labelPadding":9,"labelExpr":"datum.value == 500 ? '50' : datum.label","labelAlign":{"condition":{"test":"datum.value == 500","value":"left"},"value":"center"},"labelOffset":{"condition":{"test":"datum.value == 500","value":-11},"value":0}}},
"y":{"field":"v","type":"quantitative","scale":{"domain":[-1.1,1.1],"nice":false,"zero":false},"axis":{"values":[-1,0,1],"title":null,"grid":true,"gridColor":"#e3e3e3","ticks":false,"domain":false,"labelPadding":7,"labelExpr":"datum.value < 0 ? '-1' : datum.label"}}}}
]}
]}
],
"spacing":8
}
